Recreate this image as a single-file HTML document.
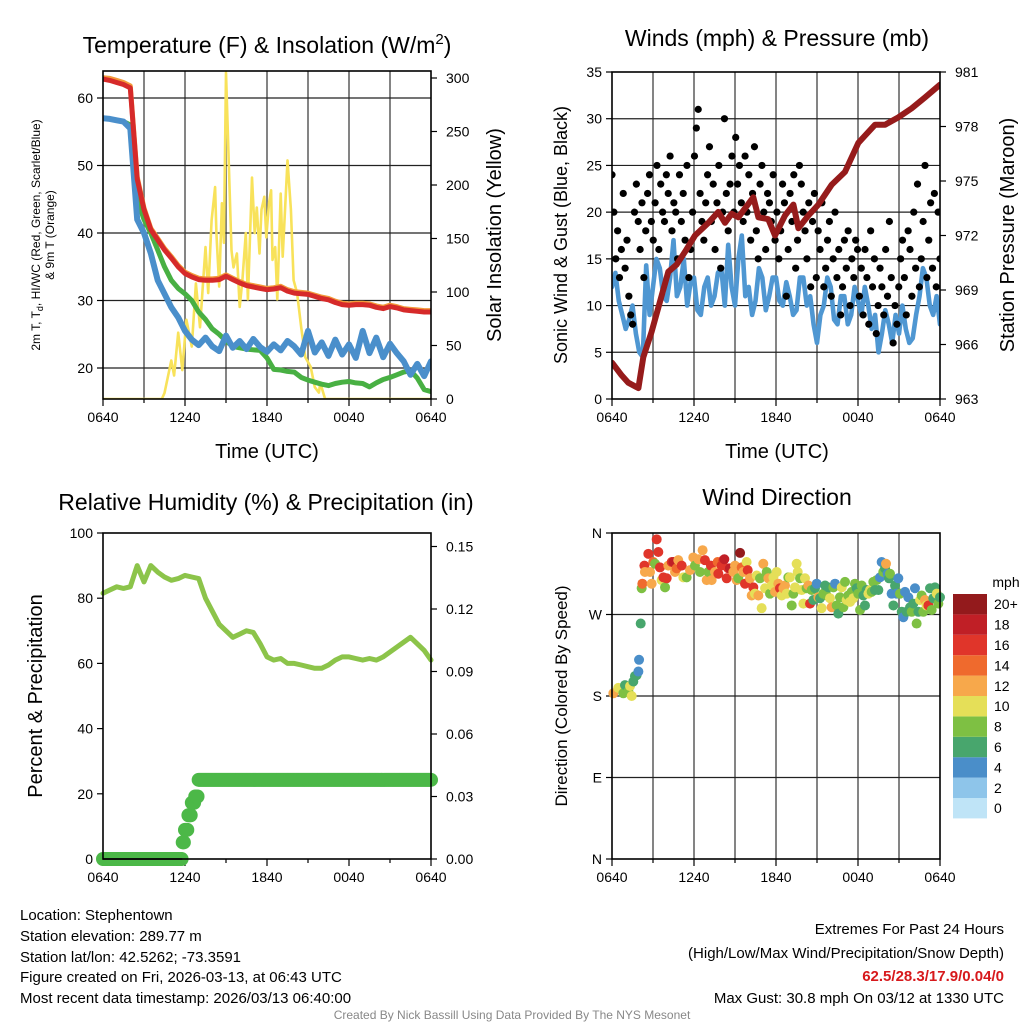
<!DOCTYPE html>
<html><head><meta charset="utf-8"><title>Stephentown Meteogram</title>
<style>
html,body{margin:0;padding:0;background:#fff;}
svg{display:block;font-family:"Liberation Sans",Arial,sans-serif;}
</style></head>
<body>
<svg id="chart" width="1024" height="1024" viewBox="0 0 1024 1024" xmlns="http://www.w3.org/2000/svg">
<rect x="0" y="0" width="1024" height="1024" fill="#fff"/>
<text x="267" y="53" font-size="23" text-anchor="middle">Temperature (F) &amp; Insolation (W/m<tspan dy="-9" font-size="15">2</tspan><tspan dy="9">)</tspan></text>
<text x="777" y="46" font-size="23" text-anchor="middle">Winds (mph) &amp; Pressure (mb)</text>
<text x="266" y="510" font-size="23" text-anchor="middle">Relative Humidity (%) &amp; Precipitation (in)</text>
<text x="777" y="505" font-size="23" text-anchor="middle">Wind Direction</text>

<text transform="translate(40,235) rotate(-90)" font-size="12" text-anchor="middle">2m T, T<tspan dy="3" font-size="9">d</tspan><tspan dy="-3">, HI/WC (Red, Green, Scarlet/Blue)</tspan></text>
<text transform="translate(54,235) rotate(-90)" font-size="12" text-anchor="middle">&amp; 9m T (Orange)</text>
<text transform="translate(501,235) rotate(-90)" font-size="20" text-anchor="middle">Solar Insolation (Yellow)</text>
<text x="267" y="458" font-size="20" text-anchor="middle">Time (UTC)</text>
<text transform="translate(567,235) rotate(-90)" font-size="18" text-anchor="middle">Sonic Wind &amp; Gust (Blue, Black)</text>
<text transform="translate(1014,235) rotate(-90)" font-size="20" text-anchor="middle">Station Pressure (Maroon)</text>
<text x="777" y="458" font-size="20" text-anchor="middle">Time (UTC)</text>
<text transform="translate(42,696) rotate(-90)" font-size="20" text-anchor="middle">Percent &amp; Precipitation</text>
<text transform="translate(567,696) rotate(-90)" font-size="17" text-anchor="middle">Direction (Colored By Speed)</text>

<g font-size="15">
<text x="20" y="920">Location: Stephentown</text>
<text x="20" y="941">Station elevation: 289.77 m</text>
<text x="20" y="962">Station lat/lon: 42.5262; -73.3591</text>
<text x="20" y="982">Figure created on Fri, 2026-03-13, at 06:43 UTC</text>
<text x="20" y="1003">Most recent data timestamp: 2026/03/13 06:40:00</text>
</g>
<g font-size="15" text-anchor="end">
<text x="1004" y="934">Extremes For Past 24 Hours</text>
<text x="1004" y="958">(High/Low/Max Wind/Precipitation/Snow Depth)</text>
<text x="1004" y="981" fill="#d7191c" font-weight="bold">62.5/28.3/17.9/0.04/0</text>
<text x="1004" y="1003">Max Gust: 30.8 mph On 03/12 at 1330 UTC</text>
</g>
<text x="512" y="1019" font-size="12" fill="#888" text-anchor="middle">Created By Nick Bassill Using Data Provided By The NYS Mesonet</text>
</svg>
<script>
// ---------- data ----------
const xTickLabels = ["0640","1240","1840","0040","0640"];
const tempTicks = [20,30,40,50,60];
const insolTicks = [0,50,100,150,200,250,300];
const windTicks = [0,5,10,15,20,25,30,35];
const presTicks = [963,966,969,972,975,978,981];
const rhTicks = [0,20,40,60,80,100];
const precipTicks = [0,0.03,0.06,0.09,0.12,0.15];
const precipTickLabels = ["0.00","0.03","0.06","0.09","0.12","0.15"];
const dirTicks = [0,90,180,270,360];
const dirTickLabels = ["N","E","S","W","N"];

// half-hourly temperature series (t = 0..24 h)
const redT = [62.8,62.6,62.3,62.0,61.5,48,43.5,40.5,39,37.5,36.3,35,34,33.5,33.1,33,33,33.1,33.6,33.1,32.6,32.2,32.0,31.8,31.6,31.7,31.9,31.4,31.1,31.0,30.9,30.6,30.3,30.1,29.7,29.4,29.3,29.4,29.4,29.3,29.0,28.8,29.1,28.9,28.6,28.5,28.4,28.3,28.3];
const orangeT = [63.0,62.9,62.6,62.3,61.8,48.3,43.7,40.7,39.2,37.7,36.5,35.2,34.2,33.7,33.3,33.2,33.2,33.3,33.8,33.3,32.8,32.4,32.2,32.0,31.8,31.9,32.1,31.6,31.3,31.2,31.1,30.8,30.5,30.3,29.9,29.6,29.5,29.6,29.6,29.5,29.2,29.0,29.3,29.1,28.8,28.7,28.6,28.5,28.5];
const greenT = [57.0,56.9,56.7,56.5,56.0,45,42,40,37.5,35,33,31.8,31,30,28.3,27.2,25.8,25,24,23.2,23.0,22.8,22.7,22.6,21.5,19.8,19.7,19.5,19.4,18.6,18.2,17.9,17.6,17.4,17.7,17.9,18.0,17.8,17.7,17.2,17.8,18.3,18.6,19.0,19.4,19.6,18.5,16.8,16.5];
const blueT = [57.0,56.9,56.7,56.5,55.5,42,40,37,33,31,29,27.5,25.5,24.2,23.4,24.5,23.2,22.5,24.8,23,24,22.8,24.3,23.1,22.4,23.5,22.6,24,23.2,22,25.5,22.3,23.8,21.8,24.2,22,23.5,21.5,25.5,22.2,24.5,21.6,23.6,22.2,21,19,20.6,18.8,21];
const insolHours = [0,4.3,4.5,5.0,5.2,5.5,5.8,6.1,6.5,6.8,7.1,7.5,7.7,7.95,8.2,8.3,8.5,8.7,8.85,9.0,9.2,9.4,9.55,9.8,10.0,10.2,10.45,10.6,10.9,11.1,11.25,11.45,11.6,11.8,11.95,12.15,12.3,12.4,12.6,12.75,13.0,13.15,13.5,13.75,13.95,14.2,14.5,14.8,15.2,15.5,15.8,15.9,16.25,24];
const insolVals = [0,0,5.6,36,22,62,27,74,49,108,67,142,99,167,198,155,105,183,146,305,223,139,123,136,86,111,155,93,207,155,179,136,177,189,151,183,195,130,142,93,192,133,223,177,111,99,67,39,30,11,6,15,0,0];

// winds (quarter-hourly, t = 0..24 h)
const windVals = [12,13.5,10.5,9,7.5,8.5,10,7,5,4.5,14.3,9,12,15,14,11,10.5,13,17,11,12,15,10,12.5,13,9.5,9,12,13,10,11,13.5,14,10,16.5,12,10,15,17.5,11,12,9,10.5,14,13,9.5,11,13,13,10.5,10,12.5,11,9,9.5,13,13,10,11,8,6,9,10,13,12,8.5,8,11,11,8,9,12,10.5,9,12,10,7.5,9,5,7,9.5,8,6,9,7,10,7.5,6,6.5,9,11,14,13,10,9,11,8];
const gustVals = [24,20,15,18,13,16,22,14,17,11,9,8,20,23,19,16,21,13,18,22,24,19,
17,21,25,16,23,20,19,24,22,26,18,21,20,15,24,19,22,17,25,13,16,20,
26,29,31,22,19,17,21,24,27,19,23,16,21,25,14,20,30,22,18,23,26,20,
28,23,25,21,19,26,20,24,17,22,27,18,15,23,25,20,16,22,21,19,24,17,
20,15,18,23,21,11,16,22,19,24,14,17,25,23,20,18,15,21,12,19,22,13,
18,16,21,12,14,17,19,11,15,20,13,16,9,12,17,14,18,10,15,13,17,16,
11,14,9,16,13,8,18,12,15,7,10,14,12,9,16,11,19,13,6,10,8,12,
15,17,13,9,18,16,11,20,14,23,12,15,19,25,13,17,21,14,22,12,20,15];
const presHours = [0,0.1,0.71,1.19,1.93,2.29,2.9,3.64,4.12,4.73,5.34,6.07,7.05,7.78,8.27,8.76,9.24,10.34,10.71,11.44,11.93,12.66,13.27,13.64,14.37,15.1,16.08,17.05,18.03,18.51,19.25,19.98,20.95,21.93,22.9,24];
const presVals = [965.0,964.9,964.3,963.9,963.6,965.3,966.7,968.7,970.0,970.4,971.1,972.0,972.7,973.3,972.7,973.2,973.0,974.1,973.0,972.9,972.0,973.1,973.7,972.4,973.1,973.7,974.8,975.5,977.1,977.5,978.1,978.1,978.5,979.0,979.6,980.3];

// humidity (half-hourly) & precipitation (step changes)
const rhVals = [81.5,82.5,83.5,83,83.5,90,85,90,88,86.5,85.5,86,87,86.5,86,80,76,72,70,68,69,70,69.5,66,62,61,61.5,60,60,59.5,59,58.5,58.5,59.5,61,62,62,61.5,61,61.5,61,62,63.5,65,66.5,68,66,64,61];
const precipHours = [0,5.8,6.0,6.2,6.45,6.7,6.95,24];
const precipVals = [0,0.008,0.014,0.021,0.027,0.030,0.038,0.038];

// wind direction
const dirHours = [0.10,0.46,0.83,0.95,1.20,1.32,1.44,1.56,1.68,1.80,1.93,1.98,2.10,2.17,2.22,2.37,2.41,2.66,2.78,2.90,3.02,3.15,3.27,3.39,3.51,3.63,3.76,3.88,4.00,4.12,4.37,4.49,4.61,4.73,4.85,5.10,5.22,5.46,5.71,5.95,6.07,6.32,6.44,6.63,6.80,6.93,7.05,7.24,7.29,7.54,7.73,7.78,8.02,8.15,8.22,8.39,8.51,8.63,8.88,9.00,9.12,9.24,9.37,9.49,9.61,9.73,9.85,9.93,
10.10,10.22,10.34,10.46,10.59,10.71,10.83,10.95,11.07,11.20,11.32,11.44,11.56,11.68,11.81,11.93,12.05,12.17,12.29,12.42,12.54,12.66,12.78,12.90,13.02,13.15,13.27,13.39,13.51,13.59,13.76,13.88,14.00,14.12,14.24,14.37,14.49,14.61,14.73,14.85,14.98,15.10,15.22,15.34,15.46,15.59,15.71,15.83,15.95,16.07,16.20,16.32,16.44,16.56,16.68,16.81,16.93,17.05,17.17,17.29,17.42,17.54,17.66,17.78,17.90,18.02,18.15,18.27,18.39,18.51,18.63,18.76,18.88,19.00,19.12,19.24,19.37,19.49,19.61,19.73,19.85,19.98,20.05,20.17,20.27,20.34,20.46,20.59,20.71,20.83,20.95,21.07,21.20,21.32,21.44,21.56,21.68,21.81,21.93,22.05,22.17,22.29,22.42,22.54,22.66,22.78,22.90,23.02,23.15,23.27,23.39,23.51,23.63,23.76,23.88,24.00];
const dirDeg = [183,189,183,192,185,191,180,196,202,203,207,220,260,299,304,324,317,337,317,304,328,326,353,339,322,308,311,300,310,324,328,328,317,321,330,324,311,311,319,333,324,331,317,341,330,308,317,324,308,317,328,315,324,330,331,310,321,321,317,324,308,310,338,322,317,304,328,319,
310,291,300,293,313,291,310,277,326,299,317,310,293,302,311,295,317,304,299,291,299,302,293,311,311,280,293,300,326,317,310,297,282,310,299,302,282,297,286,299,304,289,288,277,293,302,291,300,288,278,300,304,280,271,289,300,278,306,286,291,284,295,288,304,299,293,275,302,291,280,297,293,297,295,306,297,308,297,311,328,317,321,326,315,310,315,293,280,302,293,310,293,273,267,295,273,289,278,273,282,299,260,273,286,291,273,286,280,280,299,275,288,300,293,282,289];
const dirSpd = [12,10,8,6,8,10,10,6,6,6,4,4,6,8,14,16,12,16,12,12,14,8,16,16,16,10,16,8,16,12,16,18,12,14,12,16,10,8,12,12,8,12,8,12,16,12,8,16,12,12,14,16,16,16,18,16,16,18,12,12,12,8,20,14,12,16,10,16,
12,12,16,10,10,12,8,10,12,10,8,12,8,10,10,12,10,12,16,10,12,12,10,8,10,8,8,10,10,10,8,10,10,10,8,12,16,8,6,6,4,12,6,10,8,6,8,6,10,12,8,4,8,6,8,10,8,8,10,8,10,8,10,8,6,8,8,8,6,6,6,10,10,8,8,6,8,6,4,4,8,6,12,4,6,8,4,6,6,4,4,8,6,4,4,6,4,6,8,6,4,8,6,10,8,8,12,10,16,6,8,6,6,10,8,6];
const speedLabels = ["0","2","4","6","8","10","12","14","16","18","20+"];
const speedColors = ["#bfe4f7","#8ec5ea","#4a8ec9","#48a66d","#7ec043","#e5df58","#f7a84b","#ef6a2d","#e0352a","#c01f26","#931a1c"];

// ---------- helpers ----------
const NS = "http://www.w3.org/2000/svg";
const svg = document.getElementById("chart");
function mk(tag, attrs, parent){
  const el = document.createElementNS(NS, tag);
  for (const k in attrs) el.setAttribute(k, attrs[k]);
  (parent || svg).appendChild(el);
  return el;
}
function linScale(d0,d1,r0,r1){ return v => r0 + (v-d0)/(d1-d0)*(r1-r0); }
function pathFrom(xs, ys){ return xs.map((x,i)=>(i?"L":"M")+x.toFixed(1)+","+ys[i].toFixed(1)).join(""); }
function uniformHours(n){ const a=[]; for(let i=0;i<n;i++) a.push(i*24/(n-1)); return a; }

const panels = {
  temp:{x0:103,x1:431,y0:71,y1:399},
  wind:{x0:612,x1:940,y0:72,y1:399},
  rh:{x0:103,x1:431,y0:533,y1:859},
  dir:{x0:612,x1:940,y0:533,y1:859}
};

function drawXAxis(p, name, grid){
  const xs = linScale(0,24,p.x0,p.x1);
  const g = mk("g",{});
  
  
  if (grid){
    for (let h=3; h<24; h+=3){
      const gl = mk("line",{x1:xs(h),x2:xs(h),y1:p.y0,y2:p.y1,stroke:"#666","stroke-width":1.6},g);
      
      
    }
  }
  for (let h=0; h<=24; h+=3){
    const tk = mk("line",{x1:xs(h),x2:xs(h),y1:p.y1,y2:p.y1+(h%6===0?7:4),stroke:"#000","stroke-width":1.2},g);
    
    
  }
  xTickLabels.forEach((lab,i)=>{
    const t = mk("text",{x:xs(i*6),y:p.y1+23,"font-size":14,"text-anchor":"middle"},g);
    t.textContent = lab;
    
    
  });
  return xs;
}
function drawYAxis(p, name, ticks, labels, scale, side, grid){
  const g = mk("g",{});
  
  
  ticks.forEach((v,i)=>{
    const y = scale(v);
    if (grid && y>p.y0+2 && y<p.y1-2){
      const gl = mk("line",{x1:p.x0,x2:p.x1,y1:y,y2:y,stroke:"#222","stroke-width":1.2},g);
      
      
    }
    const x = side==="left"?p.x0:p.x1;
    const tk = mk("line",{x1:x,x2:side==="left"?x-6:x+6,y1:y,y2:y,stroke:"#000","stroke-width":1.2},g);
    
    
    const t = mk("text",{x:side==="left"?p.x0-10:p.x1+15,y:y+5,"font-size":14,"text-anchor":side==="left"?"end":"start"},g);
    t.textContent = labels ? labels[i] : String(v);
    
    
  });
}
function frame(p, name){
  const r = mk("rect",{x:p.x0,y:p.y0,width:p.x1-p.x0,height:p.y1-p.y0,fill:"none",stroke:"#000","stroke-width":1.6});
  
  
}
function clip(p, id){
  const d = mk("clipPath",{id:id});
  mk("rect",{x:p.x0,y:p.y0,width:p.x1-p.x0,height:p.y1-p.y0},d);
  return "url(#"+id+")";
}
function line(xs, ys, color, w, name, cp){
  const el = mk("path",{d:pathFrom(xs,ys),fill:"none",stroke:color,"stroke-width":w,"stroke-linejoin":"round","stroke-linecap":"round","clip-path":cp});
  
  
  return el;
}

// ---------- temperature panel ----------
(function(){
  const p = panels.temp;
  const ty = linScale(20,60,368,98);
  const iy = linScale(0,300,399,78);
  const xs = drawXAxis(p,"temperature",true);
  drawYAxis(p,"temperature-y",tempTicks,null,ty,"left",true);
  drawYAxis(p,"insolation-y",insolTicks,null,iy,"right",false);
  const cp = clip(p,"c1");
  const h = uniformHours(redT.length);
  line(insolHours.map(xs), insolVals.map(iy), "#f8e25a", 2.6, "insolation-line", cp);
  line(h.map(xs), greenT.map(ty), "#48b043", 5, "dewpoint-line", cp);
  line(h.map(xs), blueT.map(ty), "#4a8fcb", 6, "windchill-line", cp);
  line(h.map(xs), orangeT.map(ty), "#f39a3a", 5, "temperature-9m-line", cp);
  line(h.map(xs), redT.map(ty), "#d62a2a", 5, "temperature-2m-line", cp);
  frame(p,"temperature");
})();

// ---------- wind panel ----------
(function(){
  const p = panels.wind;
  const wy = linScale(0,35,399,72);
  const py = linScale(963,981,399,72);
  const xs = drawXAxis(p,"wind",true);
  drawYAxis(p,"wind-y",windTicks,null,wy,"left",true);
  drawYAxis(p,"pressure-y",presTicks,null,py,"right",false);
  const cp = clip(p,"c2");
  const hw = uniformHours(windVals.length);
  line(hw.map(xs), windVals.map(wy), "#4f97d2", 4.6, "sonic-wind-line", cp);
  const hg = uniformHours(gustVals.length);
  const gg = mk("g",{"clip-path":cp});
  
  
  gustVals.forEach((v,i)=>{
    const c = mk("circle",{cx:xs(hg[i]),cy:wy(v),r:3.6,fill:"#000"},gg);
    
    
  });
  line(presHours.map(xs), presVals.map(py), "#961b1b", 6, "pressure-line", cp);
  frame(p,"wind");
})();

// ---------- humidity / precip panel ----------
(function(){
  const p = panels.rh;
  const ry = linScale(0,100,859,533);
  const qy = linScale(0,0.15,859,546.5);
  const xs = drawXAxis(p,"humidity",false);
  drawYAxis(p,"humidity-y",rhTicks,null,ry,"left",false);
  drawYAxis(p,"precip-y",precipTicks,precipTickLabels,qy,"right",false);
  const h = uniformHours(rhVals.length);
  line(h.map(xs), rhVals.map(ry), "#8cc44a", 5, "humidity-line", "");
  const gp = mk("g",{});
  
  
  for (let m=0; m<=1440; m+=5){
    const t = m/60;
    let v = precipVals[0];
    for (let k=0;k<precipHours.length;k++) if (precipHours[k] <= t) v = precipVals[k];
    const c = mk("circle",{cx:xs(t),cy:qy(v),r:7,fill:"#4cb848"},gp);
    
    
  }
  const zl = mk("line",{x1:xs(0),x2:xs(precipHours[1]),y1:qy(0),y2:qy(0),stroke:"#2e5e2e","stroke-width":2});
  
  
  frame(p,"humidity");
})();

// ---------- wind direction panel ----------
(function(){
  const p = panels.dir;
  const dy = linScale(0,360,859,533);
  const xs = drawXAxis(p,"direction",true);
  drawYAxis(p,"direction-y",dirTicks,dirTickLabels,dy,"left",true);
  const gd = mk("g",{});
  
  
  dirHours.forEach((t,i)=>{
    const idx = Math.min(10, Math.floor(dirSpd[i]/2));
    const c = mk("circle",{cx:xs(t),cy:dy(dirDeg[i]),r:5,fill:speedColors[idx]},gd);
    
    
  });
  frame(p,"direction");
  // colorbar
  const cb = mk("g",{});
  
  
  const top = 594, cell = 20.4;
  const unit = mk("text",{x:1006,y:587,"font-size":14,"text-anchor":"middle"},cb);
  unit.textContent = "mph";
  
  
  speedColors.forEach((col,i)=>{
    const y = top + (10-i)*cell;
    const r = mk("rect",{x:953,y:y,width:34,height:cell,fill:col},cb);
    
    
    const t = mk("text",{x:994,y:y+cell/2+5,"font-size":14},cb);
    t.textContent = speedLabels[i];
    
    
  });
})();
</script>
</body></html>
